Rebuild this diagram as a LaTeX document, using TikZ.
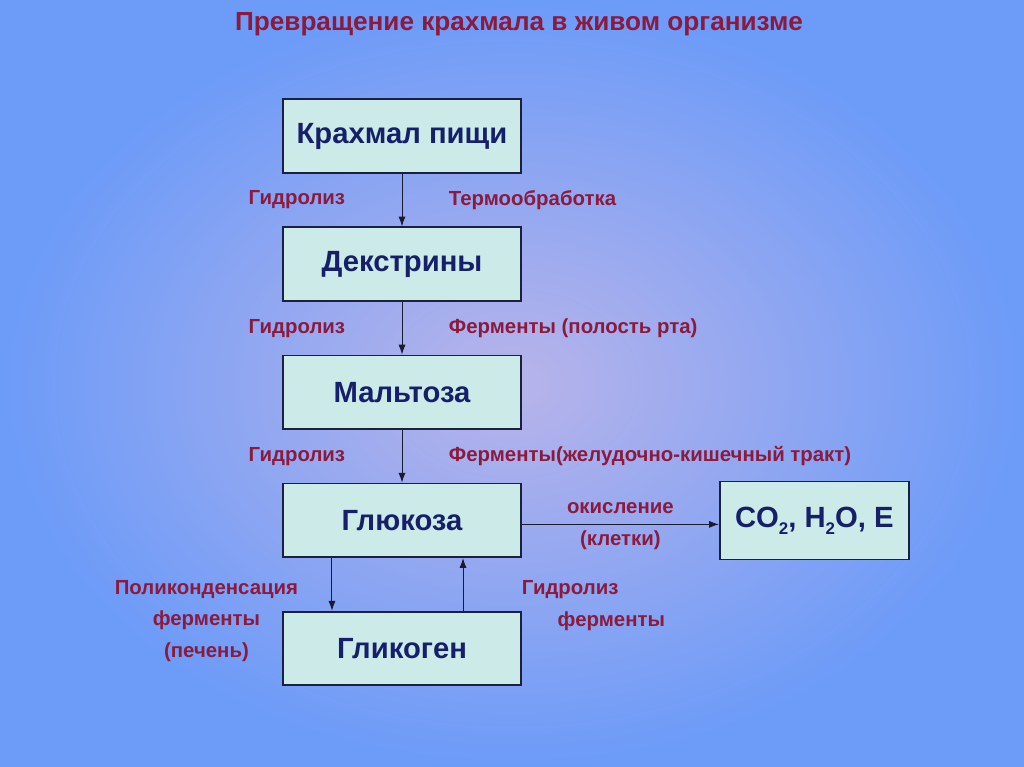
\documentclass[tikz,border=0pt]{standalone}
\usepackage{fontspec}
\setmainfont{Liberation Sans}
\usetikzlibrary{arrows.meta,positioning,calc}
\definecolor{bgout}{HTML}{6C9BF8}
\definecolor{bgin}{HTML}{B8B4EA}
\definecolor{boxfill}{HTML}{CCEAE8}
\definecolor{boxline}{HTML}{1C2040}
\definecolor{boxtext}{HTML}{16206A}
\definecolor{lbltext}{HTML}{8A1A3E}
\definecolor{arrline}{HTML}{1A1A30}
\newcommand{\lowidx}[1]{\raisebox{-0.45ex}{\fontsize{12}{12}\selectfont #1}}

\begin{document}
\begin{tikzpicture}[
  x=0.025cm, y=-0.025cm,
  node distance=1.32cm and 4.925cm,
  box/.style={rectangle, draw=boxline, line width=1.2pt, fill=boxfill,
              minimum width=5.95cm, minimum height=1.84cm, inner sep=0pt,
              font=\fontsize{20.8}{24}\selectfont\bfseries, text=boxtext},
  lbl/.style={font=\fontsize{14.5}{22.4}\selectfont\bfseries, text=lbltext,
              inner sep=1pt},
  arr/.style={-{Latex[length=7pt,width=5pt]}, line width=0.7pt, draw=arrline},
]
  % background
  \shade[inner color=bgin, outer color=bgout] (0,0) rectangle (1024,767);

  \node[font=\fontsize{18.6}{22}\selectfont\bfseries, text=lbltext] (title) at (519,24)
    {Превращение крахмала в живом организме};

  \node[box] (krah) at (402,136) {Крахмал пищи};
  \node[box, below=of krah] (dex) {Декстрины};
  \node[box, below=of dex] (malt) {Мальтоза};
  \node[box, below=of malt] (gluc) {Глюкоза};
  \node[box, below=of gluc] (glyc) {Гликоген};
  \node[box, right=of gluc, minimum width=4.725cm, minimum height=1.95cm] (prod)
    {CO\lowidx{2}, H\lowidx{2}O, E};

  \draw[arr] (krah) -- (dex)
    node[lbl, midway, left=1.375cm] (g1) {Гидролиз}
    node[lbl, midway, right=1.125cm] (t1) {Термообработка};
  \draw[arr] (dex) -- (malt)
    node[lbl, midway, left=1.375cm] (g2) {Гидролиз}
    node[lbl, midway, right=1.125cm] (t2) {Ферменты (полость рта)};
  \draw[arr] (malt) -- (gluc)
    node[lbl, midway, left=1.375cm] (g3) {Гидролиз}
    node[lbl, midway, right=1.125cm] (t3) {Ферменты(желудочно-кишечный тракт)};

  \draw[arr] ([yshift=-0.1cm]gluc.east) -- ([yshift=-0.1cm]prod.west)
    node[lbl, midway, above=0.22cm] (ox) {окисление}
    node[lbl, midway, below=0.1cm] (cell) {(клетки)};

  \draw[arr] ([xshift=-1.75cm]gluc.south) -- ([xshift=-1.75cm]glyc.north)
    node[lbl, midway, left=0.8cm, anchor=north east, yshift=0.15cm, align=center] (poly)
      {Поликонденсация\\ферменты\\(печень)};
  \draw[arr] ([xshift=1.525cm]glyc.north) -- ([xshift=1.525cm]gluc.south)
    node[lbl, midway, right=1.425cm, yshift=-0.12cm] (g4) {Гидролиз};
  \node[lbl, anchor=west] (f4) at ($(g4.west)+(36,32)$) {ферменты};
\end{tikzpicture}
\end{document}
